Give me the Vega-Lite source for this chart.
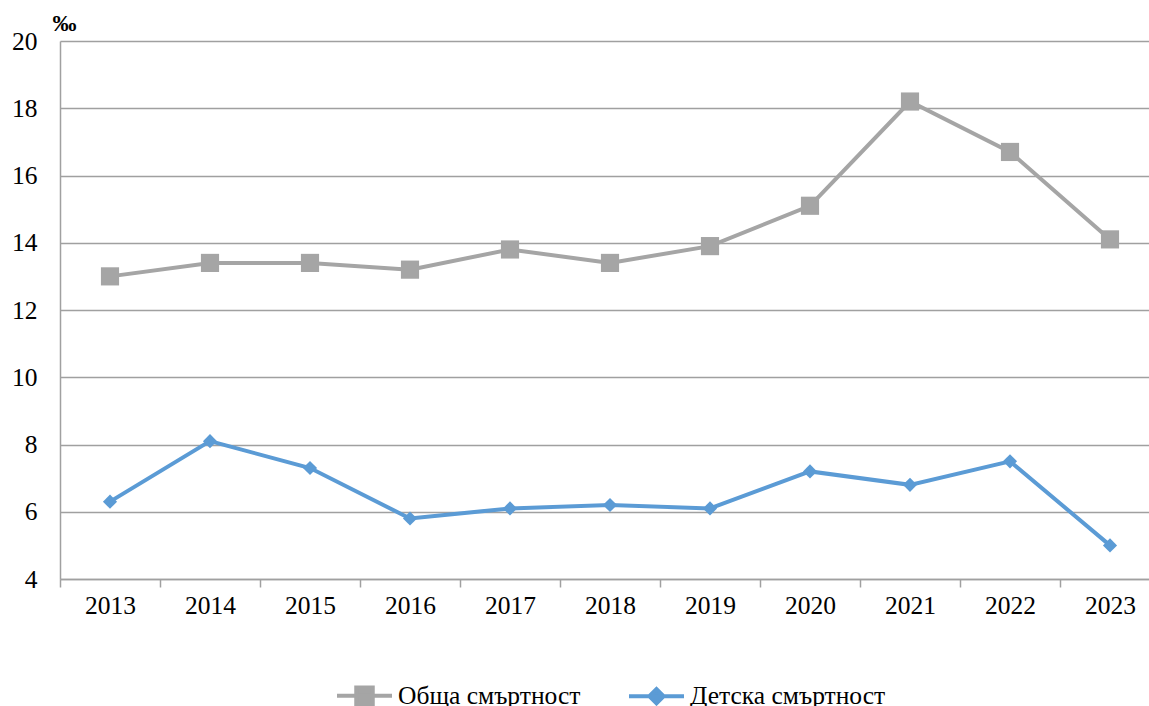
{
  "$schema": "https://vega.github.io/schema/vega-lite/v6.json",
  "width": 1100,
  "height": 538,
  "autosize": {"type": "none"},
  "padding": {"left": 60, "top": 41, "right": 0, "bottom": 127},
  "background": "white",
  "config": {
    "font": "Liberation Serif",
    "view": {"stroke": null}
  },
  "data": {
    "values": [
      {"year": "2013", "series": "Обща смъртност", "value": 13.0},
      {"year": "2014", "series": "Обща смъртност", "value": 13.4},
      {"year": "2015", "series": "Обща смъртност", "value": 13.4},
      {"year": "2016", "series": "Обща смъртност", "value": 13.2},
      {"year": "2017", "series": "Обща смъртност", "value": 13.8},
      {"year": "2018", "series": "Обща смъртност", "value": 13.4},
      {"year": "2019", "series": "Обща смъртност", "value": 13.9},
      {"year": "2020", "series": "Обща смъртност", "value": 15.1},
      {"year": "2021", "series": "Обща смъртност", "value": 18.2},
      {"year": "2022", "series": "Обща смъртност", "value": 16.7},
      {"year": "2023", "series": "Обща смъртност", "value": 14.1},
      {"year": "2013", "series": "Детска смъртност", "value": 6.3},
      {"year": "2014", "series": "Детска смъртност", "value": 8.1},
      {"year": "2015", "series": "Детска смъртност", "value": 7.3},
      {"year": "2016", "series": "Детска смъртност", "value": 5.8},
      {"year": "2017", "series": "Детска смъртност", "value": 6.1},
      {"year": "2018", "series": "Детска смъртност", "value": 6.2},
      {"year": "2019", "series": "Детска смъртност", "value": 6.1},
      {"year": "2020", "series": "Детска смъртност", "value": 7.2},
      {"year": "2021", "series": "Детска смъртност", "value": 6.8},
      {"year": "2022", "series": "Детска смъртност", "value": 7.5},
      {"year": "2023", "series": "Детска смъртност", "value": 5.0}
    ]
  },
  "encoding": {
    "x": {
      "field": "year", "type": "nominal",
      "scale": {"type": "band", "paddingInner": 0, "paddingOuter": 0},
      "axis": {"title": null, "labelAngle": 0, "tickBand": "extent", "tickSize": 8, "labelPadding": 6, "grid": false,
        "labelFont": "Liberation Serif", "labelFontSize": 25.5, "labelColor": "#000000", "domainColor": "#a0a0a0", "tickColor": "#a0a0a0", "domainWidth": 1.5, "tickWidth": 1.5}
    },
    "y": {
      "field": "value", "type": "quantitative",
      "scale": {"domain": [4, 20], "nice": false, "zero": false},
      "axis": {"values": [4, 6, 8, 10, 12, 14, 16, 18, 20], "ticks": false, "labelPadding": 23, "grid": true,
        "labelFont": "Liberation Serif", "labelFontSize": 25.5, "labelColor": "#000000", "domainColor": "#a0a0a0", "gridColor": "#a0a0a0", "domainWidth": 1.5, "gridWidth": 1.5,
        "title": "‰", "titleAngle": 0, "titleAlign": "left", "titleBaseline": "alphabetic", "titleX": -8, "titleY": -11, "titleFont": "Liberation Serif", "titleFontSize": 24, "titleFontWeight": "bold", "titleColor": "#000000"}
    },
    "color": {
      "field": "series", "type": "nominal",
      "scale": {"domain": ["Обща смъртност", "Детска смъртност"], "range": ["#a5a5a5", "#5b9bd5"]},
      "legend": {
        "title": null, "orient": "none", "direction": "horizontal", "legendX": 275, "legendY": 625,
        "labelFont": "Liberation Serif", "labelFontSize": 25.5, "labelColor": "#000000", "labelOffset": 4, "labelLimit": 500,
        "columnPadding": 40, "symbolSize": 3025, "symbolStrokeWidth": 4, "symbolOpacity": 1,
        "encode": {"symbols": {"update": {
          "shape": {"signal": "datum.value === 'Обща смъртност' ? 'M-1,0H1M-0.3,-0.3H0.3V0.3H-0.3Z' : 'M-1,0H1M-0.26,0L0,-0.26L0.26,0L0,0.26Z'"},
          "fill": {"signal": "datum.value === 'Обща смъртност' ? '#a5a5a5' : '#5b9bd5'"},
          "stroke": {"signal": "datum.value === 'Обща смъртност' ? '#a5a5a5' : '#5b9bd5'"},
          "strokeWidth": {"value": 4},
          "size": {"value": 3025}
        }}}
      }
    }
  },
  "layer": [
    {"mark": {"type": "line", "strokeWidth": 4}},
    {
      "transform": [{"filter": "datum.series === 'Обща смъртност'"}],
      "mark": {"type": "point", "filled": true, "opacity": 1, "shape": "square", "size": 330}
    },
    {
      "transform": [{"filter": "datum.series === 'Детска смъртност'"}],
      "mark": {"type": "point", "filled": true, "opacity": 1, "shape": "diamond", "size": 200}
    }
  ]
}
